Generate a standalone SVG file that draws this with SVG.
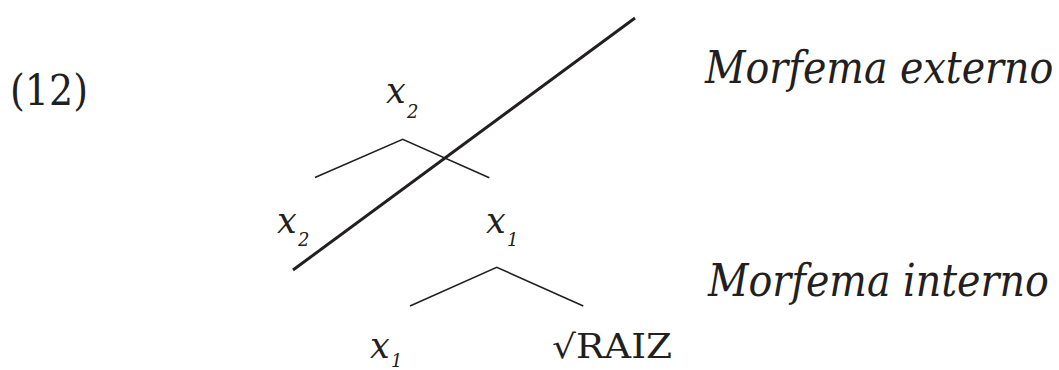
<svg xmlns="http://www.w3.org/2000/svg" width="1059" height="370" viewBox="0 0 1059 370">
<style>
.t{font-family:'DejaVu Serif','Liberation Serif',serif;fill:#231f20}
.i{font-style:italic}
.lab{font-family:'DejaVu Serif Condensed','DejaVu Serif',serif;font-stretch:condensed;font-style:italic;font-size:44px;fill:#231f20}
.v{font-size:35px}
.s{font-size:18px}
.br{stroke:#231f20;stroke-width:1.6;fill:none}
.cut{stroke:#231f20;stroke-width:3;fill:none;stroke-linecap:butt}
</style>
<rect width="1059" height="370" fill="#fff"/>
<text id="num" class="t" x="10" y="105" font-size="42" textLength="78" lengthAdjust="spacingAndGlyphs">(12)</text>
<g id="x2-top"><text class="t i v" x="386" y="103">x</text><text class="t i s" x="407" y="118">2</text></g>
<g id="x2-left"><text class="t i v" x="277" y="233">x</text><text class="t i s" x="298" y="246">2</text></g>
<g id="x1-right"><text class="t i v" x="486" y="233">x</text><text class="t i s" x="507" y="246">1</text></g>
<g id="x1-bottom"><text class="t i v" x="370" y="358">x</text><text class="t i s" x="391" y="367">1</text></g>
<g id="raiz"><text class="t" x="552" y="358" font-size="33" textLength="120" lengthAdjust="spacingAndGlyphs">√RAIZ</text></g>
<g id="label-externo"><text class="lab" x="705" y="83">Morfema externo</text></g>
<g id="label-interno"><text class="lab" x="708" y="296">Morfema interno</text></g>
<g id="connectors">
<polyline class="br" points="315,177.5 402.7,139.3 489.3,177.7"/>
<polyline class="br" points="410,306 496.7,267.3 583.3,306"/>
<line class="cut" x1="635" y1="18" x2="293" y2="270"/>
</g>
</svg>
